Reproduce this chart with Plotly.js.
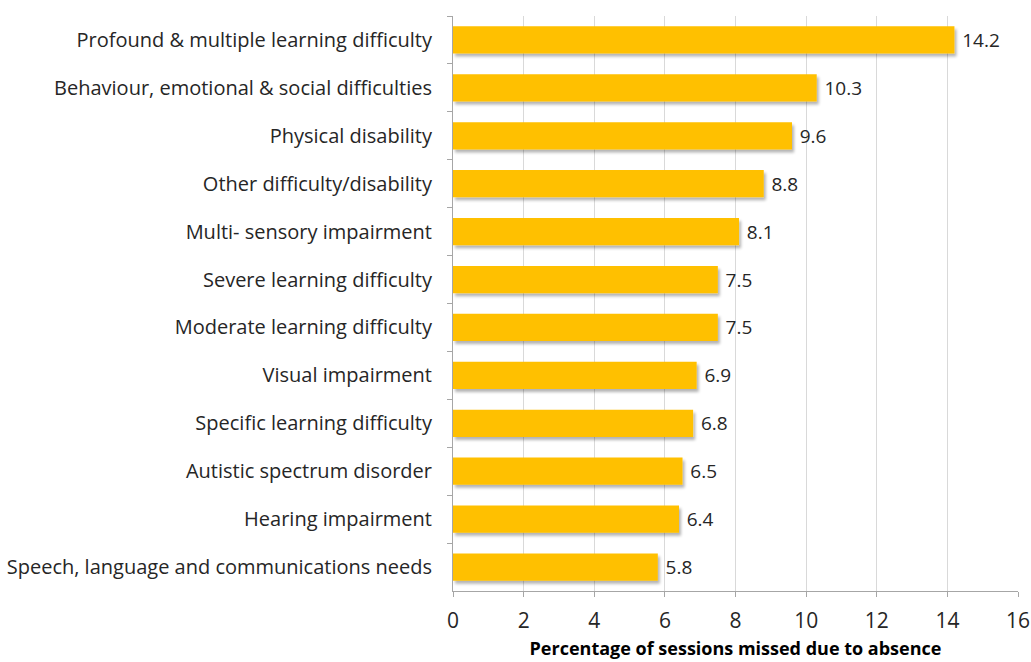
<!DOCTYPE html>
<html>
<head>
<meta charset="utf-8">
<script src="https://cdn.plot.ly/plotly-3.0.1.min.js"></script>
<style>
html,body{margin:0;padding:0;background:#fff;}
#chart{width:1031px;height:662px;}
.trace.bars .point path{filter:url(#barShadow);}
</style>
</head>
<body>
<svg width="0" height="0" style="position:absolute">
  <defs>
    <filter id="barShadow" x="-5%" y="-20%" width="115%" height="160%">
      <feGaussianBlur in="SourceAlpha" stdDeviation="1.6"/>
      <feOffset dx="2" dy="3" result="ob"/>
      <feComponentTransfer><feFuncA type="linear" slope="0.3"/></feComponentTransfer>
      <feMerge><feMergeNode/><feMergeNode in="SourceGraphic"/></feMerge>
    </filter>
  </defs>
</svg>
<div id="chart"></div>
<script>
const categories = [
  "Profound & multiple learning difficulty",
  "Behaviour, emotional & social difficulties",
  "Physical disability",
  "Other difficulty/disability",
  "Multi- sensory impairment",
  "Severe learning difficulty",
  "Moderate learning difficulty",
  "Visual impairment",
  "Specific learning difficulty",
  "Autistic spectrum disorder",
  "Hearing impairment",
  "Speech, language and communications needs"
];
const values = [14.2, 10.3, 9.6, 8.8, 8.1, 7.5, 7.5, 6.9, 6.8, 6.5, 6.4, 5.8];
const xTicks = [0, 2, 4, 6, 8, 10, 12, 14, 16];
const xTitle = "Percentage of sessions missed due to absence";

const fontFam = "'Open Sans', 'Liberation Sans', sans-serif";
const trace = {
  type: "bar",
  orientation: "h",
  x: values,
  y: categories,
  marker: {color: "#FFC000", line: {width: 0}},
  width: 0.57,
  text: values.map(v => "\u2005" + v.toFixed(1)),
  textposition: "outside",
  cliponaxis: false,
  textfont: {family: fontFam, size: 19, color: "#262626"},
  hoverinfo: "none"
};
const layout = {
  width: 1031, height: 662,
  margin: {l: 453, r: 13, t: 16, b: 71},
  paper_bgcolor: "#fff", plot_bgcolor: "#fff",
  showlegend: false,
  font: {family: fontFam, color: "#262626", size: 19},
  xaxis: {
    range: [0, 16],
    tickvals: xTicks,
    ticktext: xTicks.map(String),
    showgrid: true, gridcolor: "#D9D9D9", gridwidth: 1,
    zeroline: false,
    showline: true, linecolor: "#A6A6A6", linewidth: 1,
    ticks: "outside", ticklen: 5, tickcolor: "#A6A6A6",
    ticklabelstandoff: 6,
    tickfont: {family: fontFam, size: 21, color: "#262626"},
    title: {text: "<b>" + xTitle + "</b>", font: {family: fontFam, size: 18, color: "#000"}, standoff: 9}
  },
  yaxis: {
    type: "category",
    autorange: "reversed",
    showline: true, linecolor: "#A6A6A6", linewidth: 1,
    ticks: "outside", ticklen: 5, tickcolor: "#A6A6A6",
    tickson: "boundaries",
    showgrid: false,
    tickfont: {family: fontFam, size: 20, color: "#262626"},
    ticklabelstandoff: 16
  },
  bargap: 0.43
};
Plotly.newPlot("chart", [trace], layout, {staticPlot: true, displayModeBar: false});
</script>
</body>
</html>
